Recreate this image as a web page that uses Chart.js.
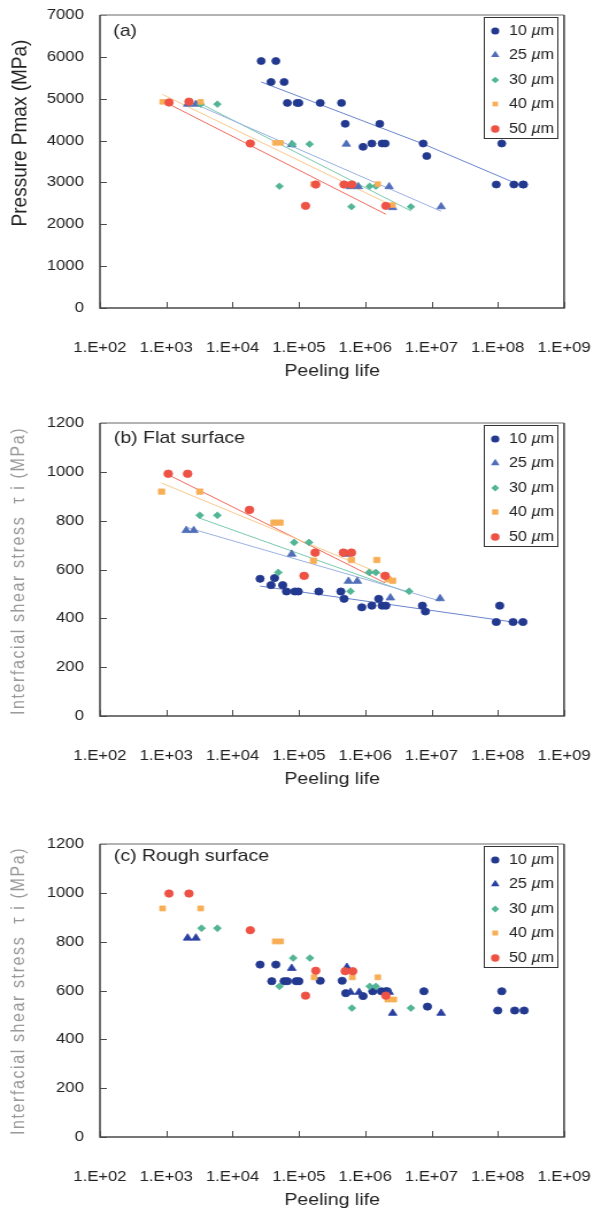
<!DOCTYPE html>
<html>
<head>
<meta charset="utf-8">
<script src="https://cdn.jsdelivr.net/npm/chart.js@4.4.0/dist/chart.umd.min.js"></script>
<style>
html,body{margin:0;padding:0;background:#fff;overflow:hidden;width:594px;height:1211px;}
.panel{position:absolute;left:0;width:522px;height:385px;transform:scaleX(1.149);transform-origin:0 0;}
canvas{display:block;}
</style>
</head>
<body>
<div class="panel" style="top:0px"><canvas id="ca" width="522" height="385"></canvas></div>
<div class="panel" style="top:408px"><canvas id="cb" width="522" height="385"></canvas></div>
<div class="panel" style="top:829px"><canvas id="cc" width="522" height="385"></canvas></div>
<script>
// ---------- axis ticks ----------
const X_TICKS = [1e2, 1e3, 1e4, 1e5, 1e6, 1e7, 1e8, 1e9];
const X_TICK_LABELS = ['1.E+02', '1.E+03', '1.E+04', '1.E+05', '1.E+06', '1.E+07', '1.E+08', '1.E+09'];
const Y_TICKS_A = [0, 1000, 2000, 3000, 4000, 5000, 6000, 7000];
const Y_TICKS_BC = [0, 200, 400, 600, 800, 1000, 1200];
const SERIES = ['10 µm', '25 µm', '30 µm', '40 µm', '50 µm'];

// ---------- panel (a): Pressure Pmax ----------
const A10_x = [2.7e4, 4.5e4, 3.8e4, 6e4, 6.7e4, 9.4e4, 1.0e5, 2.1e5, 4.4e5, 5e5, 1.66e6, 9.3e5, 1.26e6, 1.8e6, 2.0e6, 7.5e6, 8.5e6, 1.15e8, 9.5e7, 1.75e8, 2.4e8, 2.45e8];
const A10_y = [5900, 5900, 5400, 5400, 4900, 4900, 4900, 4900, 4900, 4400, 4400, 3850, 3930, 3930, 3930, 3930, 3630, 3930, 2950, 2950, 2950, 2950];
const A25_x = [2.1e3, 2.8e3, 7.8e4, 5.2e5, 6e5, 7.9e5, 2.3e6, 2.6e6, 1.4e7];
const A25_y = [4870, 4870, 3905, 3915, 2900, 2900, 2900, 2400, 2420];
const A30_x = [3.3e3, 5.9e3, 5.1e4, 8e4, 1.45e5, 6.2e5, 1.17e6, 1.45e6, 4.9e6];
const A30_y = [4870, 4870, 2910, 3915, 3915, 2420, 2910, 2910, 2420];
const A40_x = [8.8e2, 3.3e3, 4.4e4, 5.3e4, 1.66e5, 6.2e5, 1.55e6, 2.6e6];
const A40_y = [4925, 4925, 3945, 3945, 2960, 2950, 2960, 2460];
const A50_x = [1.1e3, 2.2e3, 1.85e4, 1.8e5, 1.26e5, 4.8e5, 6.3e5, 2.05e6];
const A50_y = [4910, 4930, 3930, 2950, 2440, 2950, 2950, 2440];
// trend lines (a)
const AT10_x = [2.7e4, 7.5e6, 2.45e8];  const AT10_y = [5400, 3920, 2900];
const AT25_x = [2.1e3, 1.4e7];          const AT25_y = [4950, 2310];
const AT30_x = [3.3e3, 4.9e6];          const AT30_y = [4880, 2320];
const AT40_x = [8.8e2, 2.6e6];          const AT40_y = [5100, 2440];
const AT50_x = [1.1e3, 2.05e6];         const AT50_y = [4870, 2240];

// ---------- panel (b): Flat surface ----------
const B10_x = [2.6e4, 4.3e4, 3.8e4, 5.7e4, 6.5e4, 8.7e4, 9.8e4, 2e5, 4.3e5, 4.8e5, 8.9e5, 1.26e6, 1.6e6, 1.8e6, 2.05e6, 7.3e6, 8.1e6, 1.07e8, 9.5e7, 1.7e8, 2.4e8];
const B10_y = [562, 565, 536, 536, 510, 510, 510, 510, 510, 480, 445, 452, 480, 452, 452, 452, 428, 452, 385, 385, 385];
const B25_x = [2e3, 2.6e3, 7.8e4, 5.2e5, 5.6e5, 7.6e5, 2.4e6, 1.35e7];
const B25_y = [760, 760, 663, 663, 552, 552, 484, 481];
const B30_x = [3.2e3, 5.9e3, 4.9e4, 8.5e4, 1.42e5, 6e5, 1.15e6, 1.45e6, 4.6e6];
const B30_y = [822, 822, 588, 711, 711, 511, 588, 588, 511];
const B40_x = [8.5e2, 3.2e3, 4.2e4, 5.2e4, 1.66e5, 6.2e5, 1.5e6, 2.2e6, 2.6e6];
const B40_y = [919, 919, 792, 792, 636, 639, 639, 560, 554];
const B50_x = [1.07e3, 2.1e3, 1.8e4, 1.76e5, 1.2e5, 4.7e5, 6.2e5, 2e6];
const B50_y = [992, 992, 844, 669, 574, 669, 669, 574];
// trend lines (b)
const BT10_x = [2.6e4, 2.4e8];   const BT10_y = [532, 379];
const BT25_x = [2e3, 1.35e7];    const BT25_y = [773, 471];
const BT30_x = [3.2e3, 4.6e6];   const BT30_y = [810, 504];
const BT40_x = [8.5e2, 2.6e6];   const BT40_y = [954, 563];
const BT50_x = [1.07e3, 2e6];    const BT50_y = [988, 545];

// ---------- panel (c): Rough surface ----------
const C10_x = [2.6e4, 4.5e4, 3.9e4, 6e4, 6.7e4, 9.1e4, 1e5, 2.1e5, 4.5e5, 5.1e5, 9.3e5, 1.3e6, 1.75e6, 2.05e6, 2.15e6, 7.7e6, 8.7e6, 1.15e8, 1e8, 1.8e8, 2.5e8];
const C10_y = [706, 706, 638, 638, 638, 638, 638, 640, 640, 589, 577, 597, 597, 597, 597, 597, 534, 597, 518, 518, 518];
const C25_x = [2.1e3, 2.8e3, 7.8e4, 5.3e5, 6e5, 8.1e5, 2.3e6, 2.6e6, 1.4e7];
const C25_y = [815, 815, 691, 695, 593, 593, 593, 507, 507];
const C30_x = [3.4e3, 5.9e3, 5.1e4, 8.2e4, 1.47e5, 6.3e5, 1.17e6, 1.45e6, 4.9e6];
const C30_y = [855, 855, 617, 733, 733, 528, 617, 617, 528];
const C40_x = [8.8e2, 3.3e3, 4.4e4, 5.3e4, 1.7e5, 6.4e5, 1.55e6, 2.2e6, 2.7e6];
const C40_y = [936, 936, 801, 801, 654, 654, 654, 563, 563];
const C50_x = [1.1e3, 2.2e3, 1.85e4, 1.8e5, 1.26e5, 5e5, 6.5e5, 2.05e6];
const C50_y = [997, 997, 847, 681, 579, 679, 679, 579];

// ---------- helpers ----------
Chart.defaults.font.family = "'Liberation Sans', Arial, sans-serif";
Chart.defaults.color = '#222';

const pts = (xs, ys) => xs.map((x, i) => ({ x: x, y: ys[i] }));

function marker(label, xs, ys, shape, color, r, order) {
  return {
    label: label, data: pts(xs, ys), showLine: false,
    pointStyle: shape, pointRadius: r, pointHoverRadius: r,
    pointBackgroundColor: color, pointBorderColor: color, pointBorderWidth: 0.8,
    order: order
  };
}
function trend(xs, ys, color) {
  return {
    label: '', isTrend: true, data: pts(xs, ys), showLine: true,
    borderColor: color, borderWidth: 1, pointRadius: 0, pointHoverRadius: 0,
    fill: false, tension: 0, order: 20
  };
}

function drawShape(ctx, shape, x, y, r, color) {
  ctx.fillStyle = color;
  ctx.beginPath();
  if (shape === 'circle') {
    ctx.arc(x, y, r, 0, Math.PI * 2);
  } else if (shape === 'triangle') {
    for (let k = 0; k < 3; k++) {
      const a = k * 2 * Math.PI / 3;
      const px = x + Math.sin(a) * r, py = y - Math.cos(a) * r;
      if (k === 0) ctx.moveTo(px, py); else ctx.lineTo(px, py);
    }
    ctx.closePath();
  } else if (shape === 'rectRot') {
    ctx.moveTo(x, y - r); ctx.lineTo(x + r, y); ctx.lineTo(x, y + r); ctx.lineTo(x - r, y); ctx.closePath();
  } else {
    const s = r * Math.SQRT1_2;
    ctx.rect(x - s, y - s, 2 * s, 2 * s);
  }
  ctx.fill();
}

const decor = {
  id: 'decor',
  afterDraw(chart, args, o) {
    const ctx = chart.ctx, a = chart.chartArea;
    const xs = chart.scales.x, ys = chart.scales.y;
    ctx.save();
    // inward tick marks
    ctx.strokeStyle = '#4a4a4a'; ctx.lineWidth = 1;
    ys.ticks.forEach(t => {
      const y = Math.round(ys.getPixelForValue(t.value)) + 0.5;
      ctx.beginPath(); ctx.moveTo(a.left, y); ctx.lineTo(a.left + 6, y); ctx.stroke();
    });
    xs.ticks.forEach(t => {
      const x = Math.round(xs.getPixelForValue(t.value)) + 0.5;
      ctx.beginPath(); ctx.moveTo(x, a.bottom); ctx.lineTo(x, a.bottom - 6); ctx.stroke();
    });
    // frame
    ctx.lineWidth = 1.6;
    ctx.strokeStyle = '#9a9a9a';
    ctx.beginPath(); ctx.moveTo(a.left, a.top); ctx.lineTo(a.right, a.top); ctx.stroke();
    ctx.strokeStyle = '#4a4a4a';
    ctx.beginPath(); ctx.moveTo(a.left, a.top); ctx.lineTo(a.left, a.bottom); ctx.lineTo(a.right, a.bottom); ctx.lineTo(a.right, a.top); ctx.stroke();
    // texts
    (o.texts || []).forEach(t => {
      ctx.save();
      ctx.font = t.font; ctx.fillStyle = t.color || '#222';
      ctx.textAlign = t.align || 'left'; ctx.textBaseline = 'middle';
      if (t.spacing) { try { ctx.letterSpacing = t.spacing; } catch (e) {} }
      ctx.translate(t.x, t.y);
      if (t.rotate) ctx.rotate(t.rotate);
      ctx.fillText(t.text, 0, 0);
      ctx.restore();
    });
    // legend
    const L = o.legend;
    if (L) {
      ctx.fillStyle = '#fff';
      ctx.fillRect(L.x1, L.y1, L.x2 - L.x1, L.y2 - L.y1);
      ctx.strokeStyle = '#333'; ctx.lineWidth = 1;
      ctx.strokeRect(L.x1 + 0.5, L.y1 + 0.5, L.x2 - L.x1, L.y2 - L.y1);
      const items = chart.data.datasets.filter(d => !d.isTrend);
      items.forEach((d, i) => {
        const y = L.rows[i];
        drawShape(ctx, d.pointStyle, L.mx, y, d.pointRadius, d.pointBackgroundColor);
        const parts = d.label.split(' ');
        ctx.textBaseline = 'middle'; ctx.textAlign = 'left'; ctx.fillStyle = '#222';
        let x = L.tx;
        ctx.font = '14px "Liberation Sans", Arial, sans-serif';
        ctx.fillText(parts[0] + ' ', x, y);
        x += ctx.measureText(parts[0] + ' ').width;
        ctx.font = 'italic 14px "Liberation Sans", Arial, sans-serif';
        ctx.fillText(parts[1].charAt(0), x, y);
        x += ctx.measureText(parts[1].charAt(0)).width;
        ctx.font = '14px "Liberation Sans", Arial, sans-serif';
        ctx.fillText(parts[1].slice(1), x, y);
      });
    }
    ctx.restore();
  }
};

const LEGEND = { x1: 421, y1: 17, x2: 485, y2: 138, mx: 431, tx: 443, rows: [31, 55, 80, 104, 129] };

function makeChart(id, datasets, yTicks, yMax, texts) {
  return new Chart(document.getElementById(id), {
    type: 'scatter',
    data: { datasets: datasets },
    options: {
      responsive: false, animation: false, devicePixelRatio: 1,
      layout: { padding: { left: 0, right: 31.1, top: 15, bottom: 0 } },
      plugins: { legend: { display: false }, tooltip: { enabled: false },
                 decor: { texts: texts, legend: LEGEND } },
      scales: {
        x: {
          type: 'logarithmic', min: 1e2, max: 1e9,
          grid: { display: false, drawTicks: false }, border: { display: false },
          ticks: { padding: 31.5, font: { size: 14.5 }, color: '#222', maxRotation: 0, autoSkip: false,
                   callback: (v, i) => X_TICK_LABELS[i] },
          afterBuildTicks: s => { s.ticks = X_TICKS.map(v => ({ value: v })); },
          afterFit: s => { s.height = 77; s.paddingLeft = 0; s.paddingRight = 0; }
        },
        y: {
          type: 'linear', min: 0, max: yMax,
          grid: { display: false, drawTicks: false }, border: { display: false },
          ticks: { padding: 14, font: { size: 14.5 }, color: '#222',
                   callback: v => String(v) },
          afterBuildTicks: s => { s.ticks = yTicks.map(v => ({ value: v })); },
          afterFit: s => { s.width = 87; s.paddingTop = 0; s.paddingBottom = 0; }
        }
      }
    },
    plugins: [decor]
  });
}

const C_NAVY = '#22398F', C_STEEL = '#4F6DB8', C_DBLUE = '#2A40A0', C_GREEN = '#52B596', C_ORANGE = '#F8AE55', C_RED = '#EE5245';
const T_10 = '#6A84CC', T_25 = '#9BB0E2', T_30 = '#78C8AC', T_40 = '#F9C88A', T_50 = '#F0695D';
const FONT_LBL = '17px "Liberation Sans", Arial, sans-serif';
const FONT_XT = '17px "Liberation Sans", Arial, sans-serif';
const ROT = -Math.PI / 2;

makeChart('ca', [
  marker(SERIES[0], A10_x, A10_y, 'circle', C_NAVY, 3.5, 5),
  marker(SERIES[1], A25_x, A25_y, 'triangle', C_STEEL, 4.2, 4),
  marker(SERIES[2], A30_x, A30_y, 'rectRot', C_GREEN, 3.3, 3),
  marker(SERIES[3], A40_x, A40_y, 'rect', C_ORANGE, 3.3, 2),
  marker(SERIES[4], A50_x, A50_y, 'circle', C_RED, 3.7, 1),
  trend(AT10_x, AT10_y, T_10), trend(AT25_x, AT25_y, T_25), trend(AT30_x, AT30_y, T_30),
  trend(AT40_x, AT40_y, T_40), trend(AT50_x, AT50_y, T_50)
], Y_TICKS_A, 7000, [
  { text: '(a)', x: 98.5, y: 31, font: FONT_LBL },
  { text: 'Peeling life', x: 289, y: 371, font: FONT_XT, align: 'center' },
  { text: 'Pressure Pmax (MPa)', x: 17.5, y: 133, font: '19px "Liberation Sans", Arial, sans-serif', align: 'center', rotate: ROT }
]);

makeChart('cb', [
  marker(SERIES[0], B10_x, B10_y, 'circle', C_NAVY, 3.6, 5),
  marker(SERIES[1], B25_x, B25_y, 'triangle', C_STEEL, 4.3, 4),
  marker(SERIES[2], B30_x, B30_y, 'rectRot', C_GREEN, 3.4, 3),
  marker(SERIES[3], B40_x, B40_y, 'rect', C_ORANGE, 3.8, 2),
  marker(SERIES[4], B50_x, B50_y, 'circle', C_RED, 3.8, 1),
  trend(BT10_x, BT10_y, T_10), trend(BT25_x, BT25_y, T_25), trend(BT30_x, BT30_y, T_30),
  trend(BT40_x, BT40_y, T_40), trend(BT50_x, BT50_y, T_50)
], Y_TICKS_BC, 1200, [
  { text: '(b) Flat surface', x: 99, y: 30, font: FONT_LBL },
  { text: 'Peeling life', x: 289, y: 371, font: FONT_XT, align: 'center' },
  { text: 'Interfacial shear stress  τ i (MPa)', x: 16.5, y: 163, font: '16px "Liberation Sans", Arial, sans-serif', color: '#999', align: 'center', rotate: ROT, spacing: '1.6px' }
]);

makeChart('cc', [
  marker(SERIES[0], C10_x, C10_y, 'circle', C_NAVY, 3.6, 5),
  marker(SERIES[1], C25_x, C25_y, 'triangle', C_DBLUE, 4.3, 4),
  marker(SERIES[2], C30_x, C30_y, 'rectRot', C_GREEN, 3.4, 3),
  marker(SERIES[3], C40_x, C40_y, 'rect', C_ORANGE, 3.5, 2),
  marker(SERIES[4], C50_x, C50_y, 'circle', C_RED, 3.7, 1)
], Y_TICKS_BC, 1200, [
  { text: '(c) Rough surface', x: 99, y: 27.5, font: FONT_LBL },
  { text: 'Peeling life', x: 289, y: 371, font: FONT_XT, align: 'center' },
  { text: 'Interfacial shear stress  τ i (MPa)', x: 16.5, y: 162, font: '16px "Liberation Sans", Arial, sans-serif', color: '#999', align: 'center', rotate: ROT, spacing: '1.6px' }
]);
</script>
</body>
</html>
